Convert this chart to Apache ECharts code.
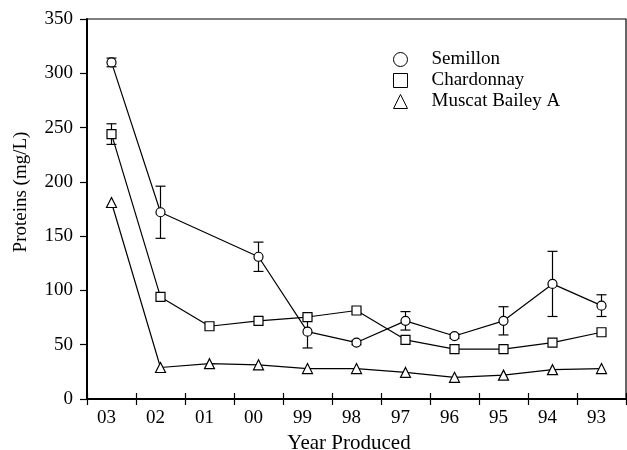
<!DOCTYPE html>
<html>
<head>
<meta charset="utf-8">
<script src="https://cdn.jsdelivr.net/npm/echarts@6/dist/echarts.min.js"></script>
<style>
  html, body { margin: 0; padding: 0; background: #fff; }
  #main { width: 627px; height: 450px; }
</style>
</head>
<body>
<div id="main"></div>
<script>
// year labels (oldest on the right)
var years = ['03', '02', '01', '00', '99', '98', '97', '96', '95', '94', '93'];

// protein values (mg/L), null = not measured
var semillon   = [310, 172, null, 131, 62, 52, 72, 58, 72, 106, 86];
var semillonSd = [4, 24, null, 13.5, 15, 2, 8.5, 2, 13, 30, 10];
var chardonnay   = [244, 94, 67, 72, 75.5, 81.5, 54.5, 46, 46, 52, 61.5];
var chardonnaySd = [9.5, 0, 0, 0, 0, 0, 0, 0, 0, 0, 0];
var muscat = [181, 29, 32.5, 31.5, 28, 28, 24.5, 20, 22, 27, 28];

var legendNames = ['Semillon', 'Chardonnay', 'Muscat Bailey A'];
var legendIcons = ['circle', 'rect', 'triangle'];

var yTicks = { min: 0, max: 350, step: 50 };

var font = 'Liberation Serif';

// error bar rows: [categoryIndex, value, sd]
function errRows(vals, sds) {
  var rows = [];
  for (var i = 0; i < vals.length; i++) {
    if (vals[i] != null && sds[i]) rows.push([i, vals[i], sds[i]]);
  }
  return rows;
}

function drawErr(params, api) {
  var x = api.value(0), y = api.value(1), e = api.value(2);
  var top = api.coord([x, y + e]);
  var bot = api.coord([x, y - e]);
  var w = 5;
  var st = { stroke: '#000', lineWidth: 1.2 };
  return {
    type: 'group',
    children: [
      { type: 'line', shape: { x1: top[0], y1: top[1], x2: bot[0], y2: bot[1] }, style: st },
      { type: 'line', shape: { x1: top[0] - w, y1: top[1], x2: top[0] + w, y2: top[1] }, style: st },
      { type: 'line', shape: { x1: bot[0] - w, y1: bot[1], x2: bot[0] + w, y2: bot[1] }, style: st }
    ]
  };
}

var markStyle = { color: '#fff', borderColor: '#000', borderWidth: 1.2 };
var lineStyle = { color: '#000', width: 1.2 };
var axisLn = { color: '#000', width: 2 };
var tickLn = { color: '#000', width: 1.2 };

// one legend block per row so the rows sit close together
var legends = legendNames.map(function (n, i) {
  return {
    orient: 'vertical',
    left: 388, top: 45 + i * 21,
    itemWidth: 14, itemHeight: 14,
    itemStyle: { color: '#fff', borderColor: '#000', borderWidth: 1 },
    textStyle: { fontFamily: font, fontSize: 19, color: '#000', padding: [0, 0, 0, 19] },
    data: [{ name: n, icon: legendIcons[i] }]
  };
});

var chart = echarts.init(document.getElementById('main'));
chart.setOption({
  animation: false,
  textStyle: { fontFamily: font, color: '#000' },
  grid: {
    left: 87, right: 1, top: 19, bottom: 51,
    outerBoundsMode: 'none',
    containLabel: false,
    show: true, borderColor: '#000', borderWidth: 1.2, backgroundColor: 'transparent'
  },
  legend: legends,
  xAxis: [{
    type: 'category',
    data: years,
    position: 'bottom',
    boundaryGap: true,
    name: 'Year Produced',
    nameLocation: 'middle',
    nameGap: 33,
    nameTextStyle: { fontFamily: font, fontSize: 21, color: '#000', padding: [0, 15, 0, 0] },
    axisLine: { lineStyle: axisLn },
    axisTick: { show: true, length: 6, lineStyle: tickLn },
    axisLabel: { fontFamily: font, fontSize: 19, color: '#000', margin: 10, padding: [0, 10, 0, 0] },
    splitLine: { show: false }
  }, {
    // upper half of the crossing ticks
    type: 'category',
    data: years,
    position: 'bottom',
    boundaryGap: true,
    axisLine: { show: true, lineStyle: axisLn },
    axisTick: { show: true, inside: true, length: 6, lineStyle: tickLn },
    axisLabel: { show: false },
    splitLine: { show: false }
  }],
  yAxis: {
    type: 'value',
    min: yTicks.min, max: yTicks.max, interval: yTicks.step,
    name: 'Proteins (mg/L)',
    nameLocation: 'middle',
    nameGap: 56,
    nameTextStyle: { fontFamily: font, fontSize: 19, color: '#000', padding: [0, 0, 0, 34] },
    axisLine: { show: true, lineStyle: axisLn },
    axisTick: { show: true, length: 7, lineStyle: tickLn },
    axisLabel: { fontFamily: font, fontSize: 19, color: '#000', margin: 14 },
    splitLine: { show: false }
  },
  series: [
    {
      type: 'custom', name: 'semErr', renderItem: drawErr, z: 1,
      data: errRows(semillon, semillonSd), silent: true
    },
    {
      type: 'custom', name: 'chErr', renderItem: drawErr, z: 1,
      data: errRows(chardonnay, chardonnaySd), silent: true
    },
    {
      type: 'line', name: 'Semillon', data: semillon, connectNulls: true,
      symbol: 'circle', symbolSize: 9, showAllSymbol: true, z: 3,
      itemStyle: markStyle, lineStyle: lineStyle
    },
    {
      type: 'line', name: 'Chardonnay', data: chardonnay,
      symbol: 'rect', symbolSize: 9, showAllSymbol: true, z: 3,
      itemStyle: markStyle, lineStyle: lineStyle
    },
    {
      type: 'line', name: 'Muscat Bailey A', data: muscat,
      symbol: 'triangle', symbolSize: 10, showAllSymbol: true, z: 3,
      itemStyle: markStyle, lineStyle: lineStyle
    }
  ]
});
</script>
</body>
</html>
